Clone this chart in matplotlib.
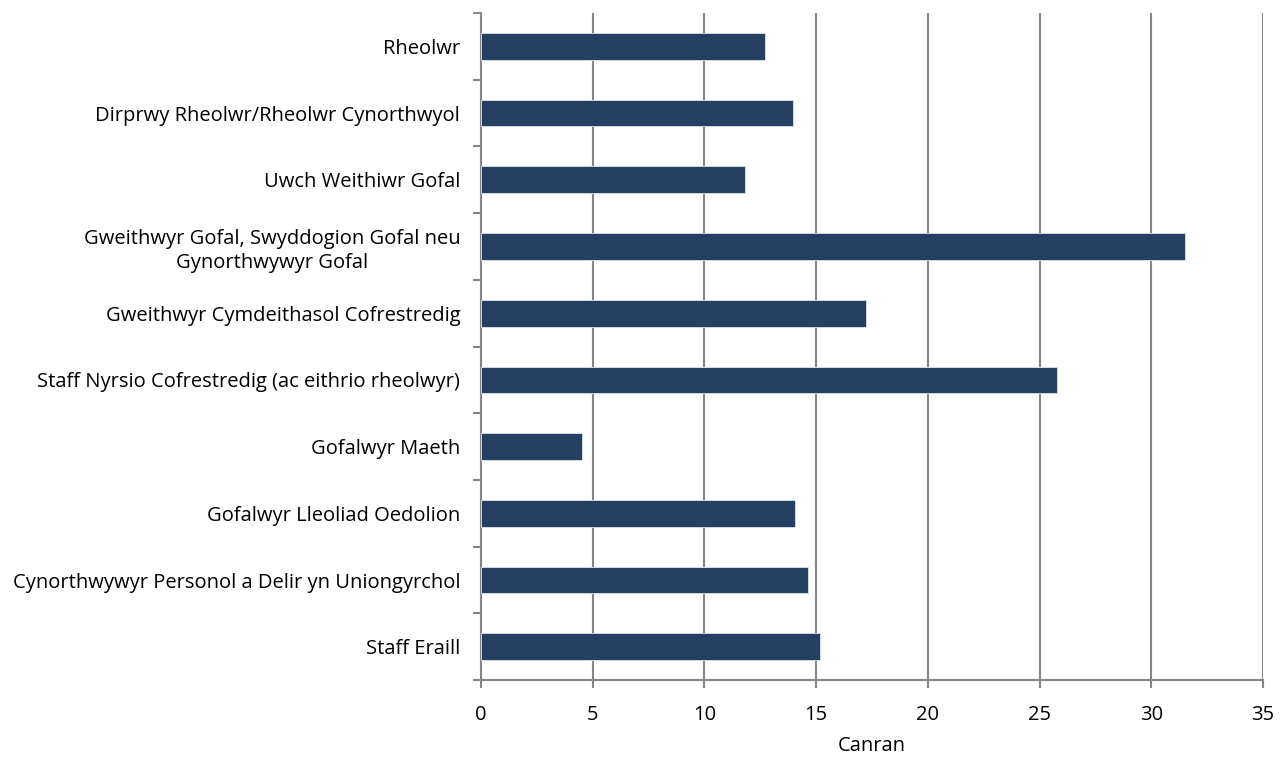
#!/usr/bin/env python3
"""Horizontal bar chart of staff roles (Canran) -> out.png"""
import matplotlib
matplotlib.use("Agg")
import matplotlib.pyplot as plt
import numpy as np

categories = [
    "Rheolwr",
    "Dirprwy Rheolwr/Rheolwr Cynorthwyol",
    "Uwch Weithiwr Gofal",
    "Gweithwyr Gofal, Swyddogion Gofal neu\nGynorthwywyr Gofal",
    "Gweithwyr Cymdeithasol Cofrestredig",
    "Staff Nyrsio Cofrestredig (ac eithrio rheolwyr)",
    "Gofalwyr Maeth",
    "Gofalwyr Lleoliad Oedolion",
    "Cynorthwywyr Personol a Delir yn Uniongyrchol",
    "Staff Eraill",
]
values = [12.7, 13.95, 11.8, 31.5, 17.25, 25.8, 4.5, 14.05, 14.65, 15.15]
x_ticks = [0, 5, 10, 15, 20, 25, 30, 35]
x_label = "Canran"

BAR_COLOR = "#243F60"
GRID_COLOR = "#868686"

plt.rcParams["font.family"] = ["Open Sans", "DejaVu Sans"]
plt.rcParams["font.size"] = 14.5

fig = plt.figure(figsize=(12.81, 7.6), dpi=100)
ax = fig.add_axes([0.3755, 0.105, 0.6105, 0.878])

y = np.arange(len(categories))
ax.barh(y, values, height=0.4, color=BAR_COLOR, edgecolor="#DCE3EC",
        linewidth=0.6, zorder=3)

ax.set_xlim(0, 35)
ax.set_ylim(len(categories) - 0.5, -0.5)
ax.set_xticks(x_ticks)
ax.set_xticklabels([str(t) for t in x_ticks])
ax.set_xlabel(x_label, labelpad=8)

# category labels centred on bars, tick marks on the category boundaries
ax.set_yticks(y)
ax.set_yticklabels(categories, multialignment="center", linespacing=1.25)
ax.tick_params(axis="y", which="major", length=0, pad=15)
ax.set_yticks(np.arange(-0.5, len(categories), 1.0), minor=True)
ax.tick_params(axis="y", which="minor", length=6, width=1.5, color=GRID_COLOR)
ax.tick_params(axis="x", length=6, width=1.5, color=GRID_COLOR, pad=12)

ax.xaxis.grid(True, color=GRID_COLOR, linewidth=1.5, zorder=0)
ax.yaxis.grid(False)
ax.set_axisbelow(True)

for side in ("top", "right"):
    ax.spines[side].set_visible(False)
for side in ("left", "bottom"):
    ax.spines[side].set_color(GRID_COLOR)
    ax.spines[side].set_linewidth(1.5)

fig.savefig("out.png", dpi=100)
plt.close(fig)
